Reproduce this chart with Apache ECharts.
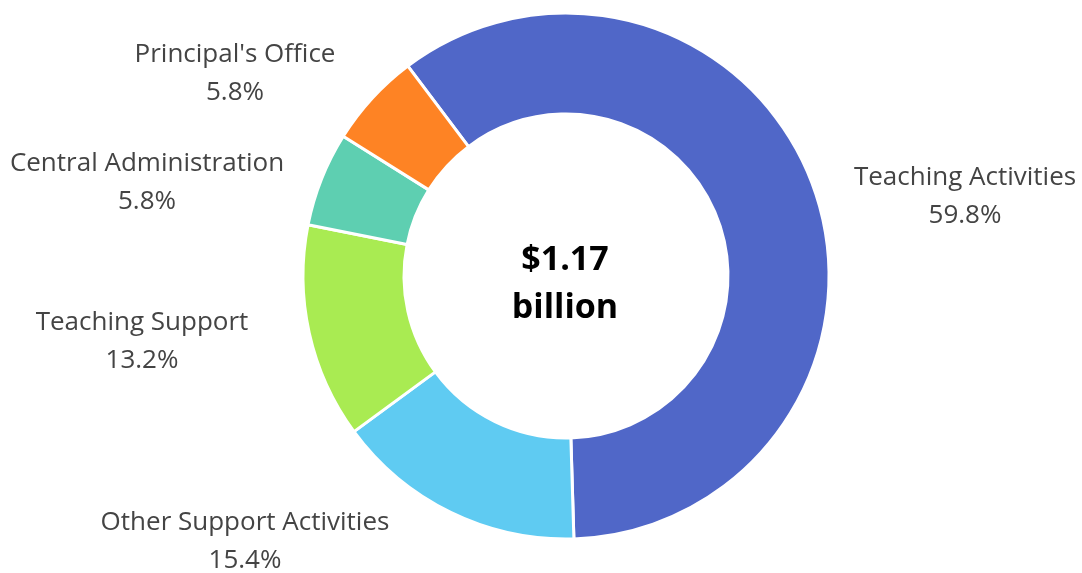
<!DOCTYPE html>
<html>
<head>
<meta charset="utf-8">
<script src="https://cdn.jsdelivr.net/npm/echarts@6/dist/echarts.min.js"></script>
<style>
html,body{margin:0;padding:0;background:#fff;}
#chart{width:1082px;height:573px;}
</style>
</head>
<body>
<div id="chart"></div>
<script>
// ---- data ----
var categories = ['Teaching Activities', 'Other Support Activities', 'Teaching Support', 'Central Administration', "Principal's Office"];
var shares = [59.8, 15.4, 13.2, 5.8, 5.8];
var centerLines = ['$1.17', 'billion'];

// ---- styles / layout ----
var colors = ['#5067C8', '#5FCBF2', '#A9EB52', '#5ECFB1', '#FE8324'];
var labelCenters = [[965, 197], [245, 542], [142, 342], [147, 183], [235, 74]];
var FONT = '"Open Sans", "Noto Sans", sans-serif';

var chart = echarts.init(document.getElementById('chart'), null, {renderer: 'canvas'});
var seriesData = categories.map(function (c, i) {
  return {name: c, value: shares[i], itemStyle: {color: colors[i]}};
});

chart.setOption({
  animation: false,
  backgroundColor: '#ffffff',
  series: [{
    type: 'pie',
    center: [566, 276],
    radius: [162, 263],
    startAngle: 127,
    clockwise: true,
    avoidLabelOverlap: false,
    itemStyle: {borderColor: '#ffffff', borderWidth: 3},
    label: {
      show: true,
      position: 'outside',
      formatter: function (p) { return p.name + '\n' + p.value.toFixed(1) + '%'; },
      fontFamily: FONT,
      fontSize: 26,
      lineHeight: 38,
      color: '#444444',
      align: 'center'
    },
    labelLine: {show: false},
    labelLayout: function (p) {
      var c = labelCenters[p.dataIndex];
      return {x: c[0], y: c[1], align: 'center', verticalAlign: 'middle'};
    },
    emphasis: {disabled: true},
    data: seriesData
  }],
  graphic: [{
    type: 'text',
    x: 565,
    y: 284,
    style: {
      text: centerLines.join('\n'),
      align: 'center',
      verticalAlign: 'middle',
      textAlign: 'center',
      textVerticalAlign: 'middle',
      font: 'bold 34px ' + FONT,
      lineHeight: 48,
      fill: '#000000'
    }
  }]
});
</script>
</body>
</html>
